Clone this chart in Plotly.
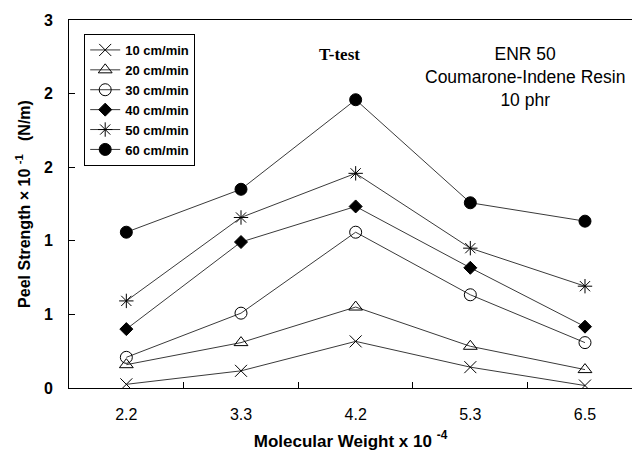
import plotly.graph_objects as go

# Molecular weight categories (x 10^-4)
mol_weight = ["2.2", "3.3", "4.2", "5.3", "6.5"]

# Peel strength (x 10^-1 N/m) for each peel rate
peel_10 = [0.03, 0.14, 0.38, 0.17, 0.02]
peel_20 = [0.19, 0.37, 0.66, 0.34, 0.15]
peel_30 = [0.25, 0.61, 1.27, 0.76, 0.37]
peel_40 = [0.48, 1.19, 1.48, 0.98, 0.50]
peel_50 = [0.71, 1.39, 1.75, 1.14, 0.83]
peel_60 = [1.27, 1.62, 2.35, 1.51, 1.36]

rate_labels = ["10 cm/min", "20 cm/min", "30 cm/min", "40 cm/min", "50 cm/min", "60 cm/min"]

y_tickvals = [0, 0.6, 1.2, 1.8, 2.4, 3.0]
y_ticktext = ["0", "1", "1", "2", "2", "3"]

series = [peel_10, peel_20, peel_30, peel_40, peel_50, peel_60]
symbols = ["x-thin-open", "triangle-up-open", "circle-open", "diamond", "asterisk-open", "circle"]
sizes = [12, 12, 12, 10, 12, 12]

xpos = list(range(len(mol_weight)))
FONT = "Arial, Liberation Sans, sans-serif"

fig = go.Figure()
for vals, name, sym, sz in zip(series, rate_labels, symbols, sizes):
    fig.add_trace(go.Scatter(
        x=xpos, y=vals, name=name, mode="lines+markers",
        line=dict(color="#3a3a3a", width=1),
        marker=dict(symbol=sym, size=sz, color="black",
                    line=dict(color="black", width=1)),
    ))

fig.update_layout(
    width=632, height=461,
    margin=dict(l=69, r=0, t=20, b=73),
    paper_bgcolor="white", plot_bgcolor="white",
    font=dict(family=FONT, color="black"),
    showlegend=True,
    legend=dict(
        x=0.027, y=0.962, xanchor="left", yanchor="top",
        bgcolor="white", bordercolor="black", borderwidth=1,
        font=dict(family=FONT, size=13, weight="bold", color="black"),
        itemwidth=30, tracegroupgap=0,
    ),
    xaxis=dict(
        range=[-0.5, 4.41], tickvals=xpos, ticktext=mol_weight,
        ticks="", showgrid=False, zeroline=False,
        showline=True, linecolor="black", linewidth=1, mirror=True,
        ticklabelstandoff=12,
        tickfont=dict(family=FONT, size=16, color="black"),
        minor=dict(tickvals=[0.5, 1.5, 2.5, 3.5], ticks="inside",
                   ticklen=6, tickcolor="black", showgrid=False),
        title=dict(text="<b>Molecular Weight x 10 <sup>-4</sup></b>",
                   font=dict(family=FONT, size=17, color="black"), standoff=12),
    ),
    yaxis=dict(
        range=[0, 3], tickvals=y_tickvals, ticktext=y_ticktext,
        ticks="inside", ticklen=6, tickcolor="black",
        showgrid=False, zeroline=False,
        showline=True, linecolor="black", linewidth=1,
        ticklabelstandoff=12,
        tickfont=dict(family=FONT, size=16, weight="bold", color="black"),
        title=dict(text="<b>Peel Strength × 10 <sup>-1</sup>&nbsp;&nbsp;&nbsp;(N/m)</b>",
                   font=dict(family=FONT, size=16, color="black"), standoff=9),
    ),
)

fig.add_annotation(x=1.86, y=2.72, xref="x", yref="y", text="<b>T-test</b>",
                   showarrow=False, xanchor="center",
                   font=dict(family="Liberation Serif, Times New Roman, serif", size=17, color="black"))
fig.add_annotation(x=3.48, y=2.82, xref="x", yref="y",
                   text="ENR 50<br>Coumarone-Indene Resin<br>10 phr",
                   showarrow=False, align="center", xanchor="center", yanchor="top",
                   font=dict(family=FONT, size=17.5, color="black"))

fig.write_html("out.html")
